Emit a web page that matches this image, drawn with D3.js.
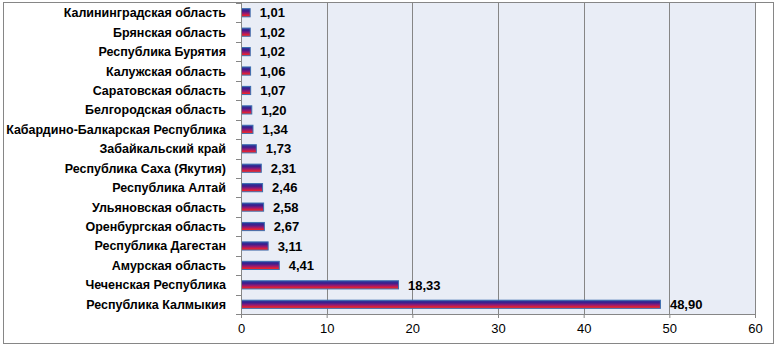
<!DOCTYPE html>
<html><head><meta charset="utf-8">
<script src="https://cdn.jsdelivr.net/npm/d3@7"></script>
<style>body{margin:0;background:#fff}svg{display:block}</style>
</head><body>
<svg id="c" width="777" height="348"></svg>
<script>
const categories = ["Калининградская область","Брянская область","Республика Бурятия","Калужская область","Саратовская область","Белгородская область","Кабардино-Балкарская Республика","Забайкальский край","Республика Саха (Якутия)","Республика Алтай","Ульяновская область","Оренбургская область","Республика Дагестан","Амурская область","Чеченская Республика","Республика Калмыкия"];
const values = [1.01,1.02,1.02,1.06,1.07,1.20,1.34,1.73,2.31,2.46,2.58,2.67,3.11,4.41,18.33,48.90];
const xTicks = [0,10,20,30,40,50,60];

const svg = d3.select("#c");
const L = 241, R = 755, T = 3, B = 314;
const font = "'Liberation Sans', Arial, sans-serif";

const defs = svg.append("defs");
const g = defs.append("linearGradient").attr("id","bg").attr("x1",0).attr("y1",0).attr("x2",0).attr("y2",1);
[["0%","#2c3aa0"],["30%","#3b1f8c"],["55%","#8a1a78"],["80%","#d8203c"],["100%","#ff2a1a"]].forEach(s=>g.append("stop").attr("offset",s[0]).attr("stop-color",s[1]));

// outer border
svg.append("rect").attr("x",3.5).attr("y",2.5).attr("width",770).attr("height",341).attr("fill","#fff").attr("stroke","#868686");

const x = d3.scaleLinear().domain([0,60]).range([L,R]);
const y = d3.scaleBand().domain(categories).range([T,B]).paddingInner(0.58).paddingOuter(0.29);

svg.append("rect").attr("x",L).attr("y",T).attr("width",R-L).attr("height",B-T).attr("fill","#e9edf6");

// gridlines
svg.append("g").selectAll("line").data(xTicks.filter(d=>d>0)).join("line")
  .attr("x1",d=>Math.round(x(d))+0.5).attr("x2",d=>Math.round(x(d))+0.5)
  .attr("y1",T).attr("y2",B).attr("stroke","#868686");

// bars
svg.append("g").selectAll("rect").data(values).join("rect")
  .attr("x",L+0.5).attr("y",(d,i)=>y(categories[i]))
  .attr("width",d=>x(d)-L).attr("height",y.bandwidth())
  .attr("fill","url(#bg)").attr("stroke","#3c6fb0").attr("stroke-width",1);

// value labels
svg.append("g").selectAll("text").data(values).join("text")
  .attr("x",d=>x(d)+10).attr("y",(d,i)=>y(categories[i])+y.bandwidth()/2)
  .attr("dy","0.36em").attr("font-family",font).attr("font-weight","bold").attr("font-size",13)
  .attr("fill","#000").text(d=>d3.format(".2f")(d).replace(".",","));

// x axis
const xa = svg.append("g").attr("transform",`translate(0,${B})`)
  .call(d3.axisBottom(x).tickValues(xTicks).tickSize(4).tickPadding(6).tickFormat(d=>d));
xa.select(".domain").attr("stroke","#868686");
xa.selectAll(".tick line").attr("stroke","#868686");
xa.selectAll("text").attr("font-family",font).attr("font-size",13).attr("fill","#000");

// y axis line
svg.append("line").attr("x1",L+0.5).attr("x2",L+0.5).attr("y1",T).attr("y2",B+4).attr("stroke","#868686");
// y ticks at band boundaries
const step = (B-T)/categories.length;
svg.append("g").selectAll("line").data(d3.range(categories.length+1)).join("line")
  .attr("x1",L-5).attr("x2",L).attr("y1",i=>Math.round(T+i*step)+0.5).attr("y2",i=>Math.round(T+i*step)+0.5)
  .attr("stroke","#868686");

// category labels
svg.append("g").selectAll("text").data(categories).join("text")
  .attr("x",226).attr("y",d=>y(d)+y.bandwidth()/2).attr("dy","0.36em")
  .attr("text-anchor","end").attr("font-family",font).attr("font-weight","bold").attr("font-size",12.5)
  .attr("fill","#000").text(d=>d);
</script>
</body></html>
